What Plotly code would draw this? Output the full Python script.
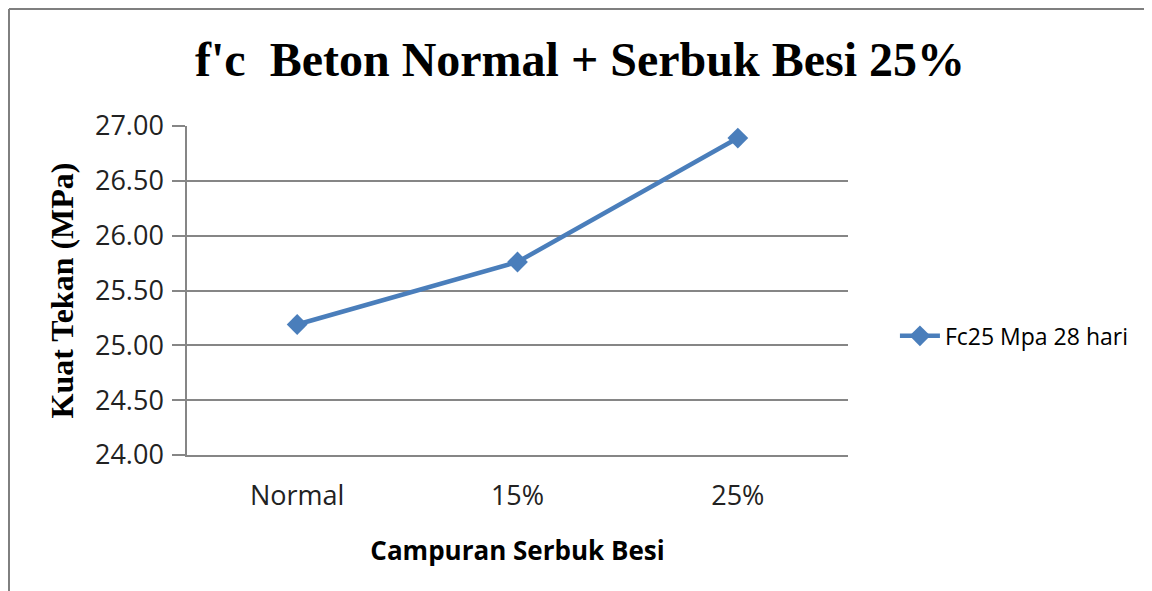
import plotly.graph_objects as go

# data
categories = ["Normal", "15%", "25%"]
fc_values = [25.19, 25.76, 26.89]
series_name = "Fc25 Mpa 28 hari"
y_ticks = [24.0, 24.5, 25.0, 25.5, 26.0, 26.5, 27.0]

line_color = "#4a7ebb"
grid_color = "#868686"

fig = go.Figure()
fig.add_trace(go.Scatter(
    x=categories,
    y=fc_values,
    mode="lines+markers",
    name=series_name,
    line=dict(color=line_color, width=4.5),
    marker=dict(symbol="diamond", size=16, color=line_color),
))

# page body has an 8px margin, so the figure is 1144x583
fig.update_layout(
    width=1144, height=583,
    margin=dict(l=179, r=304, t=118, b=136),
    paper_bgcolor="white", plot_bgcolor="white",
    showlegend=True,
    title=dict(
        text="<b>f'c  Beton Normal + Serbuk Besi 25%</b>",
        font=dict(family="Liberation Serif", size=48, color="black"),
        x=0.5, xanchor="center", y=0.913, yanchor="middle",
    ),
    legend=dict(
        x=1.071, y=0.362, xanchor="left", yanchor="middle",
        font=dict(family="Open Sans", size=23, color="black"),
        bgcolor="rgba(0,0,0,0)", itemwidth=40,
    ),
    xaxis=dict(
        type="category", range=[-0.5, 2.5],
        showgrid=False, showline=True, linecolor=grid_color, linewidth=1.5,
        ticks="", tickfont=dict(family="Open Sans", size=27, color="#222"),
        ticklabelstandoff=16,
        title=dict(text="<b>Campuran Serbuk Besi</b>",
                   font=dict(family="Open Sans", size=26, color="black"),
                   standoff=30),
    ),
    yaxis=dict(
        range=[24.0, 27.0], tickvals=y_ticks, tickformat=".2f",
        showgrid=True, gridcolor=grid_color, gridwidth=1.5,
        showline=True, linecolor=grid_color, linewidth=1.5,
        ticks="outside", ticklen=13, tickcolor=grid_color, tickwidth=1.5,
        tickfont=dict(family="Open Sans", size=27, color="#222"),
        ticklabelstandoff=3,
        zeroline=False,
        title=dict(text="<b>Kuat Tekan (MPa)</b>",
                   font=dict(family="Liberation Serif", size=32, color="black"),
                   standoff=12),
    ),
)

# chart-area border (only top and left edges visible in the reference)
fig.add_shape(type="line", xref="paper", yref="paper",
              x0=-0.2693, x1=1.5, y0=1.3556, y1=1.3556,
              line=dict(color="#7f7f7f", width=2))
fig.add_shape(type="line", xref="paper", yref="paper",
              x0=-0.2693, x1=-0.2693, y0=1.3556, y1=-0.5,
              line=dict(color="#7f7f7f", width=2))

fig.write_html("out.html")
